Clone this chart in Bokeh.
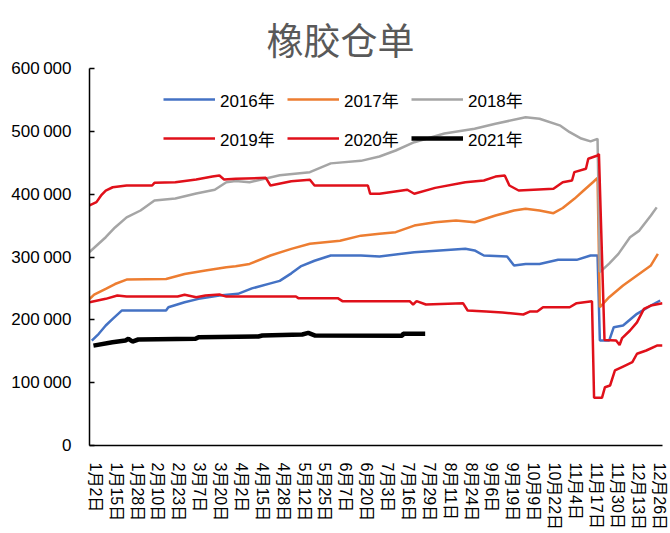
from bokeh.plotting import figure
from bokeh.models import Range1d, FixedTicker, Legend, LegendItem
from bokeh.embed import file_html
from bokeh.resources import INLINE

# x positions are trading-day indices along the category axis
tick_labels = ["1月2日", "1月15日", "1月28日", "2月10日", "2月23日", "3月7日", "3月20日",
               "4月2日", "4月15日", "4月28日", "5月12日", "5月25日", "6月7日", "6月20日",
               "7月3日", "7月16日", "7月29日", "8月11日", "8月24日", "9月6日", "9月19日",
               "10月9日", "10月22日", "11月4日", "11月17日", "11月30日", "12月13日", "12月26日"]
tick_pos = [2.5 + 9 * k for k in range(len(tick_labels))]

x2016 = [1, 4, 7, 10, 14, 33, 34, 41, 47, 56, 64, 70, 78, 82, 87, 91, 97, 104, 117, 125, 140,
         162, 166, 170, 180, 183, 188, 194, 202, 210, 216, 219, 220, 224, 226, 230, 236, 242, 246]
y2016 = [167000, 177800, 191000, 201600, 215000, 215000, 220000, 228000, 233400, 238700, 241400,
         250000, 258000, 262000, 274000, 285000, 294000, 302400, 302400, 300800, 307700,
         313000, 310400, 302400, 300800, 286500, 289000, 289000, 295500, 295500, 302400, 302400,
         167000, 167000, 188300, 191000, 209600, 222800, 230800]

x2017 = [0, 2, 7, 11, 16, 33, 41, 50, 59, 63, 69, 78, 87, 95, 108, 117, 125, 132, 140, 149, 158,
         166, 175, 183, 188, 194, 200, 204, 209, 213, 217, 219, 220, 224, 230, 236, 242, 245]
y2017 = [233000, 240000, 249400, 257000, 264000, 265000, 273000, 278500, 283800, 285400, 289000,
         302400, 313000, 321000, 326000, 334000, 337000, 339500, 350000, 355400, 358000,
         355400, 366000, 374000, 376700, 374000, 369700, 378000, 392600, 405800, 419000, 426000,
         220000, 236000, 254600, 270600, 286500, 305000]

x2018 = [0, 7, 11, 16, 22, 28, 37, 46, 54, 59, 63, 69, 82, 95, 104, 117, 125, 132, 140, 153,
         166, 175, 188, 194, 203, 207, 212, 216, 219, 220, 224, 228, 233, 237, 242, 244.5]
y2018 = [308000, 331500, 347000, 363000, 374000, 390000, 393000, 401000, 407000, 419000, 421000,
         419000, 430000, 435000, 449000, 453000, 460000, 469500, 482700, 496500,
         504000, 512000, 522500, 520000, 509000, 498600, 488500, 484000, 488000, 276000,
         289500, 305000, 331500, 342000, 366000, 379000]

x2019 = [0, 3, 5, 7, 10, 16, 27, 28, 37, 46, 53, 56, 58, 63, 76, 78, 87, 95, 97, 120, 121, 125,
         137, 140, 149, 162, 170, 175, 179, 181, 185, 200, 204, 208, 209, 214, 215, 219, 219.6,
         222, 227, 228.5, 229.6, 233, 236, 239, 242, 247]
y2019 = [382000, 387300, 398000, 405800, 411000, 413800, 413800, 418000, 419000, 423400, 428000,
         429700, 423400, 424500, 426000, 413800, 420700, 423000, 413800, 413800, 400600, 400600,
         407000, 400600, 410000, 419000, 421800, 428000, 429700, 413800, 405800, 408500,
         419000, 421800, 435000, 440400, 456300, 461500, 464000,
         168000, 167000, 160000, 171000, 183000, 196000, 217500, 222800, 226500]

x2020 = [0, 7, 12, 16, 38, 41, 46, 50, 56, 59, 89, 90, 107, 109, 138, 139.5, 141, 145, 161, 163,
         171, 178, 187, 190, 193, 195.5, 207, 210, 216.6, 217.5, 220.9, 222.2, 224.4, 226.5, 230,
         234, 236, 240, 244.6, 247]
y2020 = [228000, 233400, 238700, 237000, 237000, 239800, 236000, 238700, 240300, 237000, 237000,
         234500, 234500, 229700, 229700, 224400, 229700, 224400, 226500, 214900,
         213300, 211700, 208500, 213300, 213300, 220000, 220000, 226500, 229700, 75900, 75900,
         92800, 95500, 119400, 125700, 132600, 146000, 151200, 159000, 159000]

x2021 = [1.7, 9.9, 15.5, 16.8, 18.5, 21, 45.7, 47, 72.8, 74.5, 91.7, 94.3, 97.3, 134.8, 135.2, 144.7]
y2021 = [159000, 164400, 167000, 169800, 165500, 168700, 169800, 172300, 173500, 175000, 176700,
         179300, 175000, 174500, 177800, 177800]

series = [
    ("2016年", x2016, y2016, "#4472C4", 2.5),
    ("2017年", x2017, y2017, "#ED7D31", 2.5),
    ("2018年", x2018, y2018, "#A5A5A5", 2.5),
    ("2019年", x2019, y2019, "#E0101A", 2.5),
    ("2020年", x2020, y2020, "#E0101A", 2.5),
    ("2021年", x2021, y2021, "#000000", 4.5),
]

y_ticks = [0, 100000, 200000, 300000, 400000, 500000, 600000]
y_tick_text = ["0", "100\u2009000", "200\u2009000", "300\u2009000", "400\u2009000",
               "500\u2009000", "600\u2009000"]

FONT = "'Liberation Sans', 'Noto Sans CJK SC', sans-serif"

p = figure(width=670, height=533, output_backend="svg", toolbar_location=None,
           x_range=Range1d(0, 247), y_range=Range1d(0, 600000),
           min_border_left=89, min_border_right=8, min_border_top=68, min_border_bottom=88)
p.outline_line_color = None
p.xgrid.visible = False
p.ygrid.visible = False
p.background_fill_color = "white"
p.border_fill_color = "white"

# title
p.title.text = "橡胶仓单"
p.title.align = "left"
p.title.offset = 177
p.title.standoff = 12
p.title.text_font = FONT
p.title.text_font_size = "37px"
p.title.text_font_style = "normal"
p.title.text_color = "#595959"

items = []
for name, xs, ys, color, lw in series:
    r = p.line(xs, ys, line_color=color, line_width=lw)
    items.append(LegendItem(label=name, renderers=[r]))

# axes
p.xaxis.ticker = FixedTicker(ticks=tick_pos)
p.xaxis.major_label_overrides = {t: s for t, s in zip(tick_pos, tick_labels)}
p.xaxis.major_label_orientation = "vertical"
p.xaxis.major_tick_line_color = None
p.xaxis.minor_tick_line_color = None
p.xaxis.axis_line_color = "black"
p.xaxis.axis_line_width = 1.5
p.xaxis.major_label_text_font = FONT
p.xaxis.major_label_text_font_size = "16px"
p.xaxis.major_label_text_color = "black"
p.xaxis.major_label_standoff = 11

p.yaxis.ticker = FixedTicker(ticks=y_ticks)
p.yaxis.major_label_overrides = {t: s for t, s in zip(y_ticks, y_tick_text)}
p.yaxis.minor_tick_line_color = None
p.yaxis.major_tick_in = 5
p.yaxis.major_tick_out = 0
p.yaxis.major_tick_line_width = 1.5
p.yaxis.axis_line_color = "black"
p.yaxis.axis_line_width = 1.5
p.yaxis.major_label_text_font = FONT
p.yaxis.major_label_text_font_size = "17px"
p.yaxis.major_label_text_color = "black"
p.yaxis.major_label_standoff = 18

legend = Legend(items=items, location=(74, 292), orientation="horizontal", ncols=3,
                glyph_width=52, glyph_height=30, label_height=30, label_width=58,
                label_standoff=5, spacing=9, padding=0, margin=0,
                border_line_color=None, background_fill_alpha=0,
                label_text_font=FONT, label_text_font_size="17px", label_text_color="black")
p.add_layout(legend, "center")

open("out.html", "w").write(file_html(p, INLINE))
